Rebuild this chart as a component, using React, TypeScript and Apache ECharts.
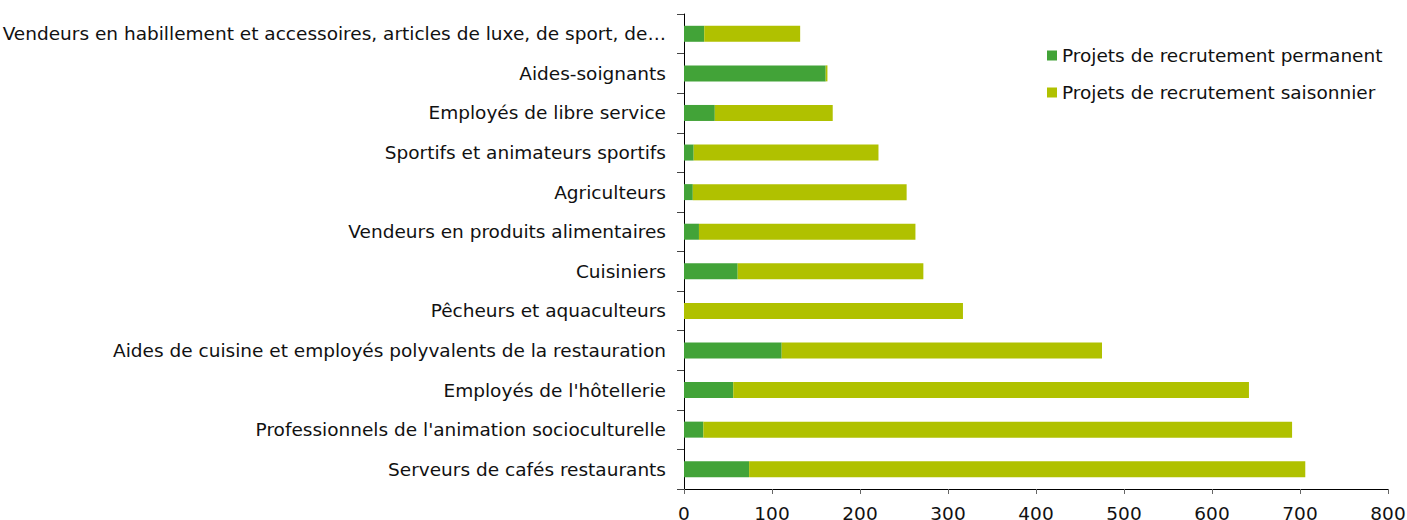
import React, { useEffect, useRef } from "react";
import * as echarts from "echarts";

const categories = [
  "Vendeurs en habillement et accessoires, articles de luxe, de sport, de…",
  "Aides-soignants",
  "Employés de libre service",
  "Sportifs et animateurs sportifs",
  "Agriculteurs",
  "Vendeurs en produits alimentaires",
  "Cuisiniers",
  "Pêcheurs et aquaculteurs",
  "Aides de cuisine et employés polyvalents de la restauration",
  "Employés de l'hôtellerie",
  "Professionnels de l'animation socioculturelle",
  "Serveurs de cafés restaurants",
];

const permanent = [23, 161, 35, 11, 10, 17, 61, 0, 111, 56, 22, 74];
const seasonal = [109, 2, 134, 210, 243, 246, 211, 317, 364, 586, 669, 632];

const xTicks = { min: 0, max: 800, interval: 100 };

const FONT = "'DejaVu Sans', Verdana, sans-serif";
const FS = 18.5;

export default function App() {
  const ref = useRef<HTMLDivElement>(null);
  useEffect(() => {
    document.body.style.margin = "0";
    document.body.style.overflow = "hidden";
    if (!ref.current) return;
    const chart = echarts.init(ref.current, null, { renderer: "svg" });
    chart.setOption({
      animation: false,
      textStyle: { fontFamily: FONT },
      grid: {
        left: 684,
        top: 14,
        width: 704,
        height: 475,
        containLabel: false,
        outerBoundsMode: "none",
      },
      legend: {
        orient: "vertical",
        left: 1042,
        top: 41,
        itemWidth: 10,
        itemHeight: 10,
        itemGap: 18,
        icon: "rect",
        textStyle: { fontFamily: FONT, fontSize: FS, color: "#111" },
        data: ["Projets de recrutement permanent", "Projets de recrutement saisonnier"],
      },
      xAxis: {
        type: "value",
        min: xTicks.min,
        max: xTicks.max,
        interval: xTicks.interval,
        splitLine: { show: false },
        axisLine: { show: true, lineStyle: { color: "#000", width: 1 } },
        axisTick: { show: true, length: 5, lineStyle: { color: "#666" } },
        axisLabel: { fontFamily: FONT, fontSize: FS, color: "#111", margin: 15 },
      },
      yAxis: {
        type: "category",
        inverse: true,
        data: categories,
        axisLine: { show: true, lineStyle: { color: "#000", width: 1 } },
        axisTick: { show: true, length: 7, lineStyle: { color: "#444" } },
        axisLabel: { fontFamily: FONT, fontSize: FS, color: "#111", margin: 18 },
      },
      series: [
        {
          name: "Projets de recrutement permanent",
          type: "bar",
          stack: "total",
          barWidth: 16,
          data: permanent,
          itemStyle: { color: "#42a338" },
        },
        {
          name: "Projets de recrutement saisonnier",
          type: "bar",
          stack: "total",
          barWidth: 16,
          data: seasonal,
          itemStyle: { color: "#b0c100" },
        },
      ],
    });
    return () => chart.dispose();
  }, []);
  return <div ref={ref} style={{ width: 1407, height: 520 }} />;
}
